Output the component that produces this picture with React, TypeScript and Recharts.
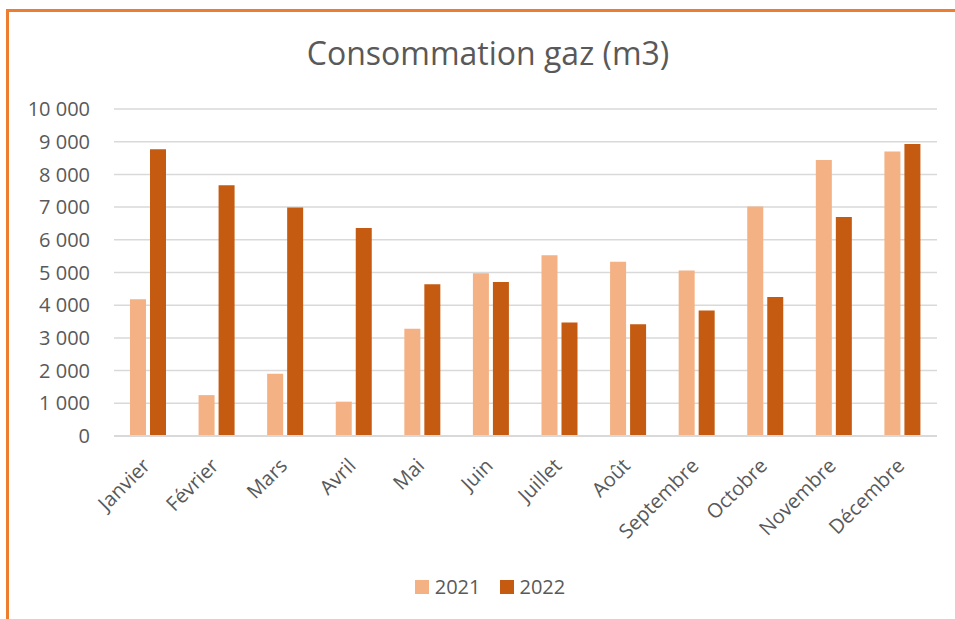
import React from 'react';
import { BarChart, Bar, XAxis, YAxis, CartesianGrid, Legend } from 'recharts';

const months = ['Janvier', 'Février', 'Mars', 'Avril', 'Mai', 'Juin', 'Juillet', 'Août', 'Septembre', 'Octobre', 'Novembre', 'Décembre'];
const values2021 = [4180, 1250, 1900, 1050, 3280, 4980, 5530, 5330, 5060, 7020, 8440, 8700];
const values2022 = [8770, 7670, 6990, 6360, 4640, 4710, 3470, 3420, 3840, 4250, 6700, 8930];
const yTicks = [0, 1000, 2000, 3000, 4000, 5000, 6000, 7000, 8000, 9000, 10000];
const seriesNames = ['2021', '2022'];
const title = 'Consommation gaz (m3)';

const data = months.map((m, i) => ({ month: m, '2021': values2021[i], '2022': values2022[i] }));

const FONT = '"Open Sans", "Noto Sans", sans-serif';
const TEXT = '#595959';
const C2021 = '#F4B183';
const C2022 = '#C55A11';

const fmt = (v: number) => String(v).replace(/\B(?=(\d{3})+(?!\d))/g, ' ');

const XTick = (props: any) => {
  const { x, y, payload } = props;
  const tx = x + 3;
  const ty = y + 31;
  return (
    <text
      x={tx}
      y={ty}
      transform={`rotate(-45, ${tx}, ${ty})`}
      textAnchor="end"
      fill={TEXT}
      fontSize={20}
      fontFamily={FONT}
    >
      {payload.value}
    </text>
  );
};

const LegendContent = (props: any) => {
  const { payload } = props;
  return (
    <div style={{ display: 'flex', justifyContent: 'center', alignItems: 'center', fontFamily: FONT, fontSize: 20, color: TEXT, paddingLeft: 25 }}>
      {(payload || []).map((p: any, i: number) => (
        <div key={i} style={{ display: 'flex', alignItems: 'center', marginRight: i === 0 ? 19 : 0 }}>
          <div style={{ width: 14, height: 14, background: p.color, marginRight: 6 }} />
          <span style={{ lineHeight: '20px' }}>{p.value}</span>
        </div>
      ))}
    </div>
  );
};

export default function App() {
  return (
    <div style={{ position: 'absolute', left: 0, top: 0, width: 955, height: 619, overflow: 'hidden', background: '#fff' }}>
      <div
        style={{
          position: 'absolute',
          left: 6,
          top: 9,
          width: 949,
          height: 610,
          boxSizing: 'border-box',
          borderTop: '3px solid #ED7D31',
          borderLeft: '3px solid #ED7D31',
        }}
      />
      <div
        style={{
          position: 'absolute',
          left: 0,
          top: 37,
          width: 976,
          textAlign: 'center',
          fontFamily: FONT,
          fontSize: 32,
          lineHeight: '32px',
          color: TEXT,
        }}
      >
        {title}
      </div>
      <div style={{ position: 'absolute', left: 0, top: 0 }}>
        <BarChart
          width={955}
          height={619}
          data={data}
          margin={{ top: 109, right: 18, left: 0, bottom: 43 }}
          barGap={4}
          barSize={16}
        >
          <CartesianGrid vertical={false} stroke="#D9D9D9" strokeWidth={1.5} />
          <XAxis
            dataKey="month"
            interval={0}
            tickLine={false}
            tickSize={0}
            tickMargin={0}
            height={120}
            axisLine={{ stroke: '#D9D9D9', strokeWidth: 2 }}
            tick={<XTick />}
          />
          <YAxis
            width={114}
            domain={[0, 10000]}
            ticks={yTicks}
            interval={0}
            axisLine={false}
            tickLine={false}
            tickSize={0}
            tickMargin={24}
            tickFormatter={fmt}
            tick={{ fill: TEXT, fontSize: 20, fontFamily: FONT }}
          />
          <Legend
            content={<LegendContent />}
            wrapperStyle={{ position: 'absolute', top: 577, left: 0, width: 955, height: 20 }}
          />
          <Bar dataKey={seriesNames[0]} name={seriesNames[0]} fill={C2021} isAnimationActive={false} />
          <Bar dataKey={seriesNames[1]} name={seriesNames[1]} fill={C2022} isAnimationActive={false} />
        </BarChart>
      </div>
    </div>
  );
}
